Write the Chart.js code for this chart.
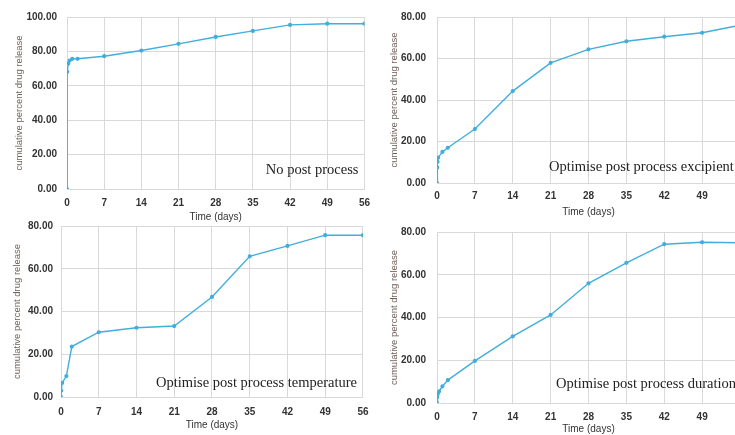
<!DOCTYPE html>
<html>
<head>
<meta charset="utf-8">
<script src="https://cdn.jsdelivr.net/npm/chart.js@4/dist/chart.umd.min.js"></script>
<style>
  html, body { margin: 0; padding: 0; background: #fff; width: 735px; height: 435px; overflow: hidden; position: relative; }
  .panel { position: absolute; }
</style>
</head>
<body>
<div class="panel" id="p1" style="left:0;top:0;width:378px;height:228px"><canvas id="c1"></canvas></div>
<div class="panel" id="p2" style="left:372px;top:0;width:380px;height:222px"><canvas id="c2"></canvas></div>
<div class="panel" id="p3" style="left:0;top:210px;width:378px;height:225px"><canvas id="c3"></canvas></div>
<div class="panel" id="p4" style="left:372px;top:215px;width:380px;height:220px"><canvas id="c4"></canvas></div>
<script>
// Data (time in days, cumulative % drug release)
const daysNoPost = [0, 0.04, 0.25, 0.5, 1, 2, 7, 14, 21, 28, 35, 42, 49, 56];
const releaseNoPost = [0, 68.1, 73.0, 74.7, 75.7, 75.7, 77.2, 80.5, 84.4, 88.4, 91.9, 95.4, 96.1, 96.1];

const daysExcipient = [0, 0.04, 0.1, 0.2, 1, 2, 7, 14, 21, 28, 35, 42, 49, 56];
const releaseExcipient = [0, 7.5, 10.2, 12.2, 15.0, 17.0, 26.0, 44.3, 57.9, 64.4, 68.3, 70.5, 72.4, 76.0];

const daysTemperature = [0, 0.04, 0.2, 1, 2, 7, 14, 21, 28, 35, 42, 49, 56];
const releaseTemperature = [0, 3.0, 6.6, 9.8, 23.6, 30.3, 32.4, 33.2, 46.8, 65.8, 70.7, 75.7, 75.7];

const daysDuration = [0, 0.04, 0.17, 0.4, 1, 2, 7, 14, 21, 28, 35, 42, 49, 56];
const releaseDuration = [0, 2.8, 4.3, 5.5, 7.8, 10.7, 19.7, 31.2, 41.2, 56.0, 65.6, 74.3, 75.2, 75.0];

const xTicks = [0, 7, 14, 21, 28, 35, 42, 49, 56];

const LINE = '#41aedc';
const GRID = '#d9d9d9';

// draws the panel caption in the lower right of the plot area
const captionPlugin = {
  id: 'caption',
  afterDatasetsDraw(chart, args, opts) {
    const { ctx, chartArea } = chart;
    ctx.save();
    ctx.font = '14.5px "Liberation Serif", "Times New Roman", serif';
    ctx.fillStyle = '#222';
    ctx.textAlign = opts.align || 'right';
    ctx.textBaseline = 'middle';
    ctx.fillText(opts.text, opts.x(chartArea), chartArea.bottom - opts.dy);
    ctx.restore();
  }
};

function makeChart(id, days, values, cfg) {
  const points = days.map((d, i) => ({ x: d, y: values[i] }));
  new Chart(document.getElementById(id), {
    type: 'line',
    data: {
      datasets: [{
        data: points,
        borderColor: LINE,
        backgroundColor: LINE,
        borderWidth: 1.4,
        pointRadius: 1.4,
        pointHoverRadius: 1.4,
        tension: 0
      }]
    },
    plugins: [captionPlugin],
    options: {
      responsive: true,
      maintainAspectRatio: false,
      animation: false,
      events: [],
      layout: { padding: { left: 0, top: cfg.padTop, right: cfg.padRight, bottom: 0 } },
      plugins: {
        legend: { display: false },
        tooltip: { enabled: false },
        caption: { text: cfg.caption, x: cfg.captionX, dy: cfg.captionDy, align: cfg.captionAlign }
      },
      scales: {
        x: {
          type: 'linear',
          min: 0,
          max: 56,
          afterBuildTicks: s => { s.ticks = xTicks.map(v => ({ value: v })); },
          afterFit: s => { s.height = cfg.xHeight; },
          grid: { color: GRID, drawTicks: false },
          border: { color: GRID },
          ticks: {
            padding: cfg.xTickPad,
            color: '#333',
            font: { family: '"Liberation Sans", Arial, sans-serif', size: 10, weight: 'bold' },
            maxRotation: 0,
            // the last label sits outside the cropped picture on the right-hand panels
            callback: v => (cfg.hideLast && v === 56) ? '' : String(v)
          },
          title: {
            display: true,
            text: 'Time (days)',
            color: '#333',
            padding: { top: 0, bottom: cfg.xTitlePad },
            font: { family: '"Liberation Sans", Arial, sans-serif', size: 10 }
          }
        },
        y: {
          min: 0,
          max: cfg.yMax,
          afterFit: s => { s.width = cfg.yWidth; },
          grid: { color: GRID, drawTicks: false },
          border: { color: GRID },
          ticks: {
            stepSize: 20,
            padding: cfg.yTickPad,
            color: '#333',
            font: { family: '"Liberation Sans", Arial, sans-serif', size: 10, weight: 'bold' },
            callback: v => v.toFixed(2)
          },
          title: {
            display: true,
            text: 'cumulative percent drug release',
            color: '#6e5f57',
            padding: { top: cfg.yTitlePad, bottom: 0 },
            font: { family: '"Liberation Sans", Arial, sans-serif', size: 9.5 }
          }
        }
      }
    }
  });
}

makeChart('c1', daysNoPost, releaseNoPost, {
  yMax: 100, padTop: 17, padRight: 12, yWidth: 67, xHeight: 39,
  xTickPad: 8, xTitlePad: 5, yTickPad: 10, yTitlePad: 14,
  caption: 'No post process', captionX: a => a.right - 6, captionDy: 19
});

makeChart('c2', daysExcipient, releaseExcipient, {
  yMax: 80, padTop: 12, padRight: 12, yWidth: 65, xHeight: 39,
  xTickPad: 7.5, xTitlePad: 4, yTickPad: 11, yTitlePad: 17, hideLast: true,
  caption: 'Optimise post process excipient', captionX: a => 549 - 372, captionAlign: 'left', captionDy: 16
});

makeChart('c3', daysTemperature, releaseTemperature, {
  yMax: 80, padTop: 16, padRight: 12, yWidth: 61, xHeight: 38,
  xTickPad: 9.5, xTitlePad: 4, yTickPad: 8, yTitlePad: 12,
  caption: 'Optimise post process temperature', captionX: a => a.right - 6, captionDy: 14
});

makeChart('c4', daysDuration, releaseDuration, {
  yMax: 80, padTop: 16, padRight: 12, yWidth: 65, xHeight: 32,
  xTickPad: 8, xTitlePad: 0, yTickPad: 11, yTitlePad: 17, hideLast: true,
  caption: 'Optimise post process duration', captionX: a => 556 - 372, captionAlign: 'left', captionDy: 19
});
</script>
</body>
</html>
